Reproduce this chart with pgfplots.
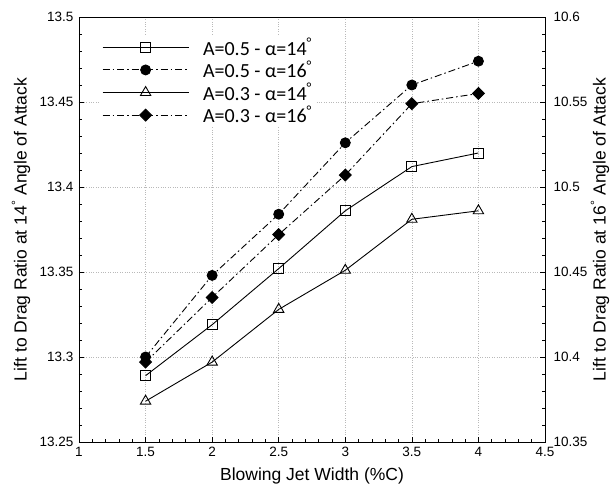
\documentclass[border=0pt]{standalone}
\usepackage{pgfplots}
\pgfplotsset{compat=1.18}
\usepackage{fontspec}
\setmainfont{Liberation Sans}
\newfontfamily\legfont{Carlito}
\begin{document}
\begin{tikzpicture}
\pgfplotsset{
 common/.style={scale only axis, width=466pt, height=425pt, xmin=1, xmax=4.5,
   at={(0pt,0pt)}, anchor=south west,
   tick align=inside, /pgf/number format/assume math mode=true,
   tick label style={font=\fontsize{13.5}{16}\selectfont},
   label style={font=\fontsize{17.5}{20}\selectfont},
   major tick length=5pt, minor tick length=3pt,
   tick style={black, line width=0.6pt},
   axis line style={line width=0.8pt},
   xtick={1,1.5,2,2.5,3,3.5,4,4.5},
   minor x tick num=4, minor y tick num=4,
 },
 dd/.style={line width=0.9pt, dash pattern=on 7pt off 3pt on 1.5pt off 3pt},
 sl/.style={line width=0.9pt},
}
\begin{axis}[common, ymin=13.25, ymax=13.5,
  ytick={13.25,13.3,13.35,13.4,13.45,13.5},
  yticklabels={13.25,13.3,13.35,13.4,13.45,13.5},
  xticklabels={1,1.5,2,2.5,3,3.5,4,4.5},
  ytick pos=left, xtick pos=bottom,
  yticklabel style={xshift=-2pt},
  xticklabel style={yshift=-2pt},
  grid=major, major grid style={dotted, gray!55, line width=0.5pt},
  xlabel={Blowing Jet Width (\%C)},
  ylabel={Lift to Drag Ratio at 14\textsuperscript{°} Angle of Attack},
  ylabel style={at={(axis description cs:-0.1245,0.5)}, anchor=center},
  xlabel style={at={(axis description cs:0.5,-0.08)}, anchor=center},
]
\addplot[sl, black, mark=square, mark size=5pt, mark options={solid, fill=white}] coordinates {
 (1.5,13.289) (2,13.319) (2.5,13.352) (3,13.386) (3.5,13.412) (4,13.420)};
\addplot[sl, black, mark=triangle, mark size=6pt, mark options={solid, fill=white}] coordinates {
 (1.5,13.274) (2,13.297) (2.5,13.328) (3,13.351) (3.5,13.381) (4,13.386)};
\end{axis}
\begin{axis}[common, ymin=10.35, ymax=10.6,
  axis x line=none, axis y line*=right,
  ytick={10.35,10.4,10.45,10.5,10.55,10.6},
  yticklabels={10.35,10.4,10.45,10.5,10.55,10.6},
  yticklabel style={xshift=5pt},
  ylabel={Lift to Drag Ratio at 16\textsuperscript{°} Angle of Attack},
  ylabel style={at={(axis description cs:1.118,0.5)}, anchor=center},
  legend cell align=left,
  legend style={at={(axis description cs:0.045,0.958)}, anchor=north west, draw=none, fill=white,
    font=\legfont\fontsize{20}{22}\selectfont, row sep=0pt,
    inner xsep=2pt, inner ysep=1pt,
    /tikz/every odd column/.append style={column sep=12pt}},
  legend image code/.code={\draw[mark=none] (0pt,0pt) -- (86pt,0pt); \draw[solid] plot coordinates {(43pt,0pt)};},
]
\addlegendimage{sl, black, mark=square, mark size=5pt, mark options={solid, fill=white}}
\addlegendentry{A=0.5 - α=14\textsuperscript{°}}
\addplot[dd, black, mark=*, mark size=5pt, mark options={solid, fill=black}] coordinates {
 (1.5,10.400) (2,10.448) (2.5,10.484) (3,10.526) (3.5,10.560) (4,10.574)};
\addlegendentry{A=0.5 - α=16\textsuperscript{°}}
\addlegendimage{sl, black, mark=triangle, mark size=6pt, mark options={solid, fill=white}}
\addlegendentry{A=0.3 - α=14\textsuperscript{°}}
\addplot[dd, black, mark=square*, mark size=4.2pt, mark options={solid, fill=black, rotate=45}] coordinates {
 (1.5,10.397) (2,10.435) (2.5,10.472) (3,10.507) (3.5,10.549) (4,10.555)};
\addlegendentry{A=0.3 - α=16\textsuperscript{°}}
\end{axis}
\pgfresetboundingbox
\path (-79pt,-52pt) rectangle (534pt,442pt);
\end{tikzpicture}
\end{document}
